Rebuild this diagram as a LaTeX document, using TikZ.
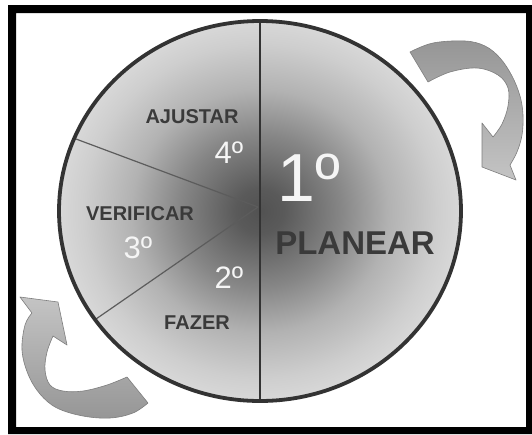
\documentclass[tikz,border=0pt]{standalone}
\usepackage{fontspec}
\setmainfont{Liberation Sans}
\usetikzlibrary{calc}
\definecolor{outl}{HTML}{333333}
\definecolor{lbl}{HTML}{3A3A3A}
\definecolor{numw}{HTML}{F5F5F5}
\definecolor{shA}{HTML}{525252}
\definecolor{shA2}{HTML}{5A5A5A}
\definecolor{shB}{HTML}{868686}
\definecolor{shB2}{HTML}{B2B2B2}
\definecolor{shC}{HTML}{CECECE}
\definecolor{shD}{HTML}{D8D8D8}
\definecolor{arrD}{HTML}{969696}
\definecolor{arrL}{HTML}{C4C4C4}
\definecolor{arrE}{HTML}{7E7E7E}
\pgfdeclareradialshading{pdcashade}{\pgfpoint{0bp}{0bp}}{color(0bp)=(shA); color(3bp)=(shA2); color(10bp)=(shB); color(16bp)=(shB2); color(22bp)=(shC); color(25bp)=(shD); color(50bp)=(shD)}
\tikzset{
 stagelbl/.style={font=\fontsize{20}{20}\selectfont\bfseries, text=lbl, inner sep=0pt, anchor=base},
 ordnum/.style={font=\fontsize{31}{31}\selectfont, text=numw, inner sep=0pt, anchor=base},
 bigordnum/.style={font=\fontsize{68}{68}\selectfont, text=numw, inner sep=0pt, anchor=base},
 planlbl/.style={font=\fontsize{33}{33}\selectfont\bfseries, text=lbl, inner sep=0pt, anchor=base},
 sector/.style={draw=outl!80, line width=1.2pt},
 rim/.style={draw=outl, line width=3.8pt},
 divider/.style={draw=outl, line width=2.8pt},
 cyclearrow/.style={draw=arrE, line width=0.6pt, line join=round},
}
\begin{document}
\begin{tikzpicture}[x=1pt,y=-1pt]
\useasboundingbox (0,0) rectangle (532,434);
\fill[white] (0,0) rectangle (532,434);
\fill[black,even odd rule] (8,5) rectangle (532,434) (16,13) rectangle (526,427);

\coordinate (ctr) at (260,211);
\coordinate (hub) at (258,207);
\coordinate (top) at (260,21);
\coordinate (bot) at (260,401);
\coordinate (ul) at (76,139);
\coordinate (ll) at (96,319);

\path[shading=pdcashade] (ctr) ellipse [x radius=201, y radius=190];
\begin{scope}
\clip (ctr) ellipse [x radius=201, y radius=190];
\draw[sector] (hub) -- ($(hub)!1.15!(ul)$);
\draw[sector] (hub) -- ($(hub)!1.15!(ll)$);
\end{scope}
\draw[divider] (top) -- (bot);
\draw[rim] (ctr) ellipse [x radius=201, y radius=190];

\node[stagelbl] (ajustar) at (192,123) {AJUSTAR};
\node[stagelbl] (verificar) at (140,220) {VERIFICAR};
\node[stagelbl] (fazer) at (197,329) {FAZER};
\node[planlbl] (planear) at (355,254) {PLANEAR};
\node[ordnum] (n4) at (229,163) {4º};
\node[ordnum] (n3) at (138,258) {3º};
\node[ordnum] (n2) at (229,288) {2º};
\node[bigordnum] (n1) at (309,201) {1º};

\draw[cyclearrow, top color=arrD, bottom color=arrL]
 plot[smooth, tension=0.6] coordinates {(410,52) (433,43) (465,41) (485,46) (500,58) (512,76) (520,96) (523,115) (522,135) (517,152) (510,165)}
 -- (516,180) -- (482,167) -- (482,123) -- (493,137)
 -- plot[smooth, tension=0.6] coordinates {(493,137) (502,124) (508,106) (508,88) (498,75) (477,68) (450,72) (428,82)}
 -- cycle;

\draw[cyclearrow, top color=arrL, bottom color=arrD]
 (20,297) -- (58,302) -- (67,345) -- (53,336)
 -- plot[smooth, tension=0.6] coordinates {(53,336) (47,352) (45,370) (50,385) (63,391) (83,391) (107,385) (127,377)}
 -- (148,403)
 -- plot[smooth, tension=0.6] coordinates {(148,403) (133,413) (110,418) (83,416) (57,408) (40,394) (28,374) (22,350) (25,325) (32,313)}
 -- cycle;
\end{tikzpicture}
\end{document}
